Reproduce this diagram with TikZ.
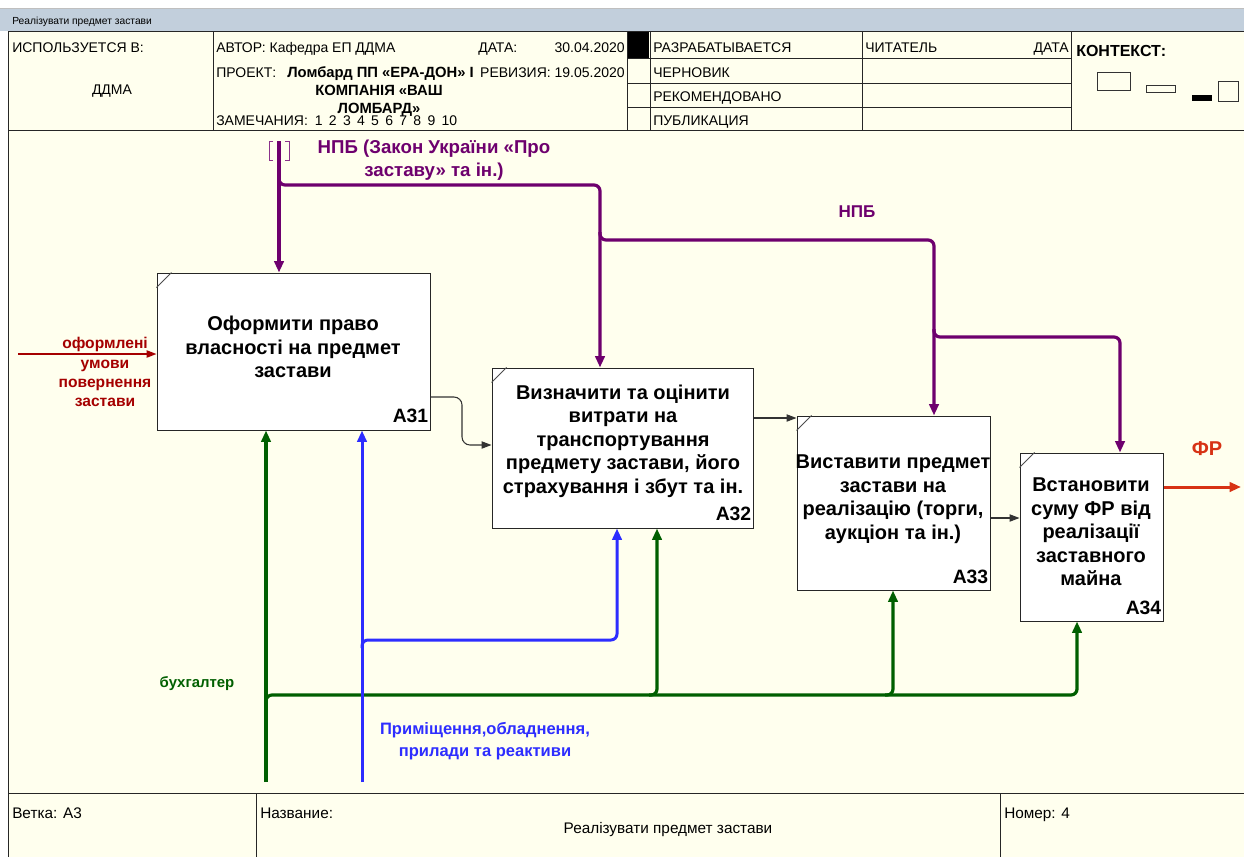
\documentclass[tikz,border=0pt]{standalone}
\usepackage{fontspec}
\setmainfont{Liberation Sans}
\usetikzlibrary{arrows.meta,calc}
\definecolor{cream}{RGB}{255,255,238}
\definecolor{titlebar}{RGB}{194,207,220}
\definecolor{npb}{RGB}{110,0,110}
\definecolor{inred}{RGB}{165,0,0}
\definecolor{outred}{RGB}{215,50,20}
\definecolor{mgreen}{RGB}{0,95,0}
\definecolor{mblue}{RGB}{45,45,255}
\begin{document}
\begin{tikzpicture}[x=0.75pt,y=-0.75pt,
  box/.style={draw=black!85,fill=white,line width=0.75pt,inner sep=0pt,minimum width=#1},
  boxtxt/.style={align=center,inner sep=0pt,font=\fontsize{15}{17.6}\selectfont\bfseries},
  boxnum/.style={anchor=south east,inner sep=0pt,font=\fontsize{14.5}{16}\selectfont\bfseries},
  hdr/.style={inner sep=0pt,font=\fontsize{10.5}{12}\selectfont},
  ftr/.style={inner sep=0pt,font=\fontsize{11.5}{13}\selectfont},
  hdrb/.style={inner sep=0pt,font=\fontsize{11.1}{13}\selectfont\bfseries},
  ctrl/.style={draw=npb,line width=2.4pt,rounded corners=4.5pt},
  mech/.style={draw=mgreen,line width=2.4pt,rounded corners=4.5pt},
  mechb/.style={draw=mblue,line width=2.25pt,rounded corners=4.5pt},
  inp/.style={draw=inred,line width=1.1pt},
  outp/.style={draw=outred,line width=2.25pt},
  flow/.style={draw=black!80,line width=0.8pt,rounded corners=6pt},
  tip/.style={-{Triangle[length=7.5pt,width=5.5pt]}},
  tipb/.style={-{Triangle[length=8.5pt,width=7pt]}},
  lbl/.style={align=center,inner sep=0pt,font=\fontsize{12.8}{17}\selectfont\bfseries}
]
\useasboundingbox (0,0) rectangle (1244,857);
\fill[white] (0,0) rectangle (1244,857);
\fill[cream] (8,31) rectangle (1244,857);
\fill[titlebar] (0,9) rectangle (1244,31);
\draw[black!25,line width=0.75pt] (0,8.5) -- (1244,8.5);
\node[anchor=base west,inner sep=0pt,font=\fontsize{7.7}{9}\selectfont] (ttl) at (12,24) {Реалізувати предмет застави};

% header frame
\draw[black!85,line width=0.75pt] (8,31) -- (1244,31) (8,130) -- (1244,130) (8,31) -- (8,857);
\foreach \xx in {213,627,650,862,1071} \draw[black!85,line width=0.75pt] (\xx,31) -- (\xx,130);
\foreach \yy in {58,83,107} \draw[black!85,line width=0.75pt] (627,\yy) -- (1071,\yy);
\fill[black] (628,32) rectangle (649,58);

\node[hdr,anchor=base west] (usedin) at (12,52) {ИСПОЛЬЗУЕТСЯ В:};
\node[hdr,anchor=base] (ddma) at (112,94) {ДДМА};
\node[hdr,anchor=base west] (author) at (216,52) {АВТОР: Кафедра ЕП ДДМА};
\node[hdr,anchor=base west] (datel) at (478,52) {ДАТА:};
\node[hdr,anchor=base east] (datev) at (625,52) {30.04.2020};
\node[hdr,anchor=base west] (proj) at (216,77) {ПРОЕКТ:};
\node[hdrb,anchor=base west] (projv) at (287,77) {Ломбард ПП «ЕРА-ДОН» І};
\node[hdr,anchor=base east] (rev) at (625,77) {РЕВИЗИЯ: 19.05.2020};
\node[hdrb,anchor=base] (projv2) at (379,95) {КОМПАНІЯ «ВАШ};
\node[hdrb,anchor=base] (projv3) at (379,113) {ЛОМБАРД»};
\node[hdr,anchor=base west] (notes) at (216,125) {ЗАМЕЧАНИЯ:\hspace{0.5em}1\hspace{0.45em}2\hspace{0.45em}3\hspace{0.45em}4\hspace{0.45em}5\hspace{0.45em}6\hspace{0.45em}7\hspace{0.45em}8\hspace{0.45em}9\hspace{0.45em}10};
\node[hdr,anchor=base west] (st1) at (653,52) {РАЗРАБАТЫВАЕТСЯ};
\node[hdr,anchor=base west] (st2) at (653,77) {ЧЕРНОВИК};
\node[hdr,anchor=base west] (st3) at (653,101) {РЕКОМЕНДОВАНО};
\node[hdr,anchor=base west] (st4) at (653,125) {ПУБЛИКАЦИЯ};
\node[hdr,anchor=base west] (reader) at (865,52) {ЧИТАТЕЛЬ};
\node[hdr,anchor=base east] (rdate) at (1069,52) {ДАТА};
\node[hdrb,anchor=base west,font=\fontsize{12}{14}\selectfont\bfseries] (ctx) at (1076,56) {КОНТЕКСТ:};
\draw[black!80,line width=0.75pt] (1097,72) rectangle (1130,90);
\draw[black!80,line width=0.75pt] (1146,85) rectangle (1175,92);
\fill[black] (1192,95) rectangle (1212,101);
\draw[black!80,line width=0.75pt] (1218,81) rectangle (1238,101);

% footer
\draw[black!85,line width=0.75pt] (8,793) -- (1244,793) (256,793) -- (256,857) (1000,793) -- (1000,857);
\node[ftr,anchor=base west] (branch) at (12,818) {Ветка: А3};
\node[ftr,anchor=base west] (namel) at (260,818) {Название:};
\node[ftr,anchor=base] (namev) at (668,833) {Реалізувати предмет застави};
\node[ftr,anchor=base west] (numl) at (1004,818) {Номер: 4};

% boxes
\node[box=204.75pt,minimum height=117.75pt] (A31) at (293.5,351.5) {};
\node[box=195.75pt,minimum height=120pt] (A32) at (622.5,448) {};
\node[box=144.75pt,minimum height=130.5pt] (A33) at (893.5,503) {};
\node[box=107.25pt,minimum height=126pt] (A34) at (1091.5,537) {};
\foreach \b in {A31,A32,A33,A34}
  \draw[black!70,line width=0.6pt] ($(\b.north west)+(0,15)$) -- ($(\b.north west)+(15,0)$);

\node[boxtxt] (t31) at (293,347) {Оформити право\\власності на предмет\\застави};
\node[boxtxt] (t32) at (623,441) {Визначити та оцінити\\витрати на\\транспортування\\предмету застави, його\\страхування і збут та ін.};
\node[boxtxt] (t33) at (893,499) {Виставити предмет\\застави на\\реалізацію (торги,\\аукціон та ін.)};
\node[boxtxt] (t34) at (1091,532) {Встановити\\суму ФР від\\реалізації\\заставного\\майна};
\node[boxnum] (n31) at ($(A31.south east)+(-2,-8)$) {A31};
\node[boxnum] (n32) at ($(A32.south east)+(-2,-8)$) {A32};
\node[boxnum] (n33) at ($(A33.south east)+(-2,-7)$) {A33};
\node[boxnum] (n34) at ($(A34.south east)+(-2,-7)$) {A34};

% controls (purple)
\coordinate (ctop) at (279,141);
\coordinate (j1) at (279,185);
\coordinate (j2) at (600,240);
\coordinate (j3) at (934,337);
\coordinate (j4) at (1120,337);
\draw[ctrl,tipb] (ctop) -- (ctop |- A31.north);
\draw[ctrl,tipb] ($(j1)+(0,-8)$) -- (j1) -| (A32.north -| j2);
\draw[ctrl,tipb] ($(j2)+(0,-8)$) -- (j2) -| (A33.north -| j3);
\draw[ctrl,tipb] ($(j3)+(0,-8)$) -- (j3) -| (A34.north -| j4);
\draw[npb!80,line width=0.75pt] (273,141) -- (269,141) -- (269,160) -- (273,160);
\draw[npb!80,line width=0.75pt] (285,141) -- (289,141) -- (289,160) -- (285,160);
\node[lbl,text=npb,font=\fontsize{14}{17.3}\selectfont\bfseries] (lnpb1) at (434,160) {НПБ (Закон України «Про\\заставу» та ін.)};
\node[lbl,text=npb] (lnpb2) at (857,212) {НПБ};

% input
\coordinate (rin) at (18,354);
\draw[inp,tip] (rin) -- (rin -| A31.west);
\node[lbl,text=inred,font=\fontsize{11.7}{14.3}\selectfont\bfseries] (lin) at (105,372) {оформлені\\умови\\повернення\\застави};

% flows between boxes
\coordinate (k1) at (462,397);
\coordinate (k2) at (462,445);
\draw[flow,tip] (A31.east |- k1) -| (k2) -- (k2 -| A32.west);
\coordinate (k3) at (760,418);
\draw[flow,tip] (A32.east |- k3) -- (k3 -| A33.west);
\coordinate (k4) at (1000,518);
\draw[flow,tip] (A33.east |- k4) -- (k4 -| A34.west);

% output
\coordinate (rout) at (1241,487);
\draw[outp,tipb] (rout -| A34.east) -- (rout);
\node[lbl,text=outred,font=\fontsize{15}{17}\selectfont\bfseries] (lout) at (1207,449) {ФР};

% mechanisms (green)
\coordinate (gb) at (266,782);
\coordinate (gj) at (266,695);
\coordinate (g2) at (657,695);
\coordinate (g3) at (893,695);
\coordinate (g4) at (1077,695);
\draw[mech,tipb] (gb) -- (gb |- A31.south);
\draw[mech,tipb] ($(gj)+(0,8)$) -- (gj) -| (A34.south -| g4);
\draw[mech,tipb] ($(g2)+(-8,0)$) -- (g2) -- (A32.south -| g2);
\draw[mech,tipb] ($(g3)+(-8,0)$) -- (g3) -- (A33.south -| g3);
\node[lbl,text=mgreen,font=\fontsize{11.2}{14}\selectfont\bfseries] (lg) at (197,684) {бухгалтер};

% mechanisms (blue)
\coordinate (bb) at (362,782);
\coordinate (bj) at (362,640);
\coordinate (b2) at (617,640);
\draw[mechb,tipb] (bb) -- (bb |- A31.south);
\draw[mechb,tipb] ($(bj)+(0,8)$) -- (bj) -| (A32.south -| b2);
\node[lbl,text=mblue,font=\fontsize{12.4}{16}\selectfont\bfseries] (lb) at (485,741) {Приміщення,обладнення,\\прилади та реактиви};
\end{tikzpicture}
\end{document}
